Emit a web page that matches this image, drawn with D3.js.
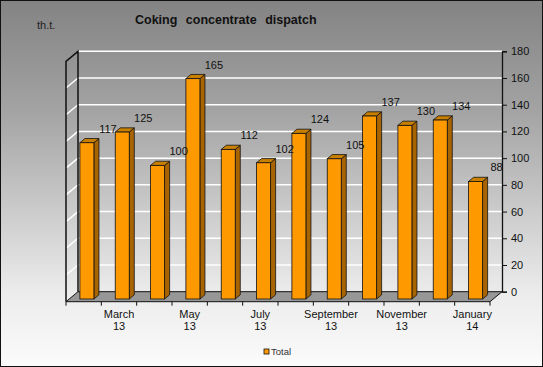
<!DOCTYPE html>
<html>
<head>
<meta charset="utf-8">
<script src="https://cdn.jsdelivr.net/npm/d3@7"></script>
<style>
  body { margin: 0; background: #fff; }
  text { font-family: "Liberation Sans", Arial, sans-serif; }
</style>
</head>
<body>
<svg id="chart" width="543" height="367"></svg>
<script>
// chart data
var months = ["February 13", "March 13", "April 13", "May 13", "June 13", "July 13",
              "August 13", "September 13", "October 13", "November 13", "December 13", "January 14"];
var totals = [117, 125, 100, 165, 112, 102, 124, 105, 137, 130, 134, 88];
var shownLabels = ["March 13", "May 13", "July 13", "September 13", "November 13", "January 14"];
var yTicks = [0, 20, 40, 60, 80, 100, 120, 140, 160, 180];

var W = 543, H = 367;
var svg = d3.select("#chart");

// depth vector of the 3d box (front -> back)
var dx = 12, dy = -10;

var x = d3.scaleBand().domain(months).range([66, 490]).paddingInner(0).paddingOuter(0);
// y on the front plane
var y = d3.scaleLinear().domain([0, 180]).range([301.7, 61.3]);

// background gradient
var defs = svg.append("defs");
var grad = defs.append("linearGradient").attr("id", "bg")
    .attr("x1", 0).attr("y1", 0).attr("x2", 0).attr("y2", 1);
grad.append("stop").attr("offset", "0%").attr("stop-color", "#838383");
grad.append("stop").attr("offset", "30%").attr("stop-color", "#a3a3a3");
grad.append("stop").attr("offset", "80%").attr("stop-color", "#ececec");
grad.append("stop").attr("offset", "100%").attr("stop-color", "#fbfbfb");

svg.append("rect").attr("x", 0.5).attr("y", 0.5).attr("width", W - 1).attr("height", H - 1)
    .attr("fill", "url(#bg)").attr("stroke", "#111");

var x0 = x.range()[0], x1 = x.range()[1];

// left wall gridlines (diagonal)
svg.append("g").selectAll("line").data(yTicks.slice(1, -1)).enter().append("line")
    .attr("x1", x0).attr("y1", function(d) { return y(d); })
    .attr("x2", x0 + dx).attr("y2", function(d) { return y(d) + dy; })
    .attr("stroke", "#fff").attr("stroke-width", 1.5);

// back wall gridlines
svg.append("g").selectAll("line").data(yTicks.slice(1)).enter().append("line")
    .attr("x1", x0 + dx).attr("x2", x1 + dx)
    .attr("y1", function(d) { return y(d) + dy; })
    .attr("y2", function(d) { return y(d) + dy; })
    .attr("stroke", "#fff").attr("stroke-width", 1.5);

// left wall edges
svg.append("path")
    .attr("d", "M" + x0 + "," + y(0) + "V" + y(180) + "L" + (x0 + dx) + "," + (y(180) + dy) +
               "V" + (y(0) + dy))
    .attr("fill", "none").attr("stroke", "#111").attr("stroke-width", 1.5);

// floor
svg.append("path")
    .attr("d", "M" + x0 + "," + y(0) + "H" + x1 + "L" + (x1 + dx) + "," + (y(0) + dy) +
               "H" + (x0 + dx) + "Z")
    .attr("fill", "#979797").attr("stroke", "#111").attr("stroke-width", 1);

// bars
var t0 = 0.27, t1 = 0.69;
var bw = 14;
var bars = svg.append("g").selectAll("g").data(totals).enter().append("g")
    .attr("transform", function(d, i) {
        var cx = x(months[i]) + x.bandwidth() / 2;
        return "translate(" + (cx - bw / 2 + t0 * dx) + "," + (t0 * dy) + ")";
    });
var ddx = (t1 - t0) * dx, ddy = (t1 - t0) * dy;
bars.append("path") // side
    .attr("d", function(d) {
        return "M" + bw + "," + y(0) + "V" + y(d) + "l" + ddx + "," + ddy +
               "V" + (y(0) + ddy) + "Z";
    })
    .attr("fill", "#a86400").attr("stroke", "#111").attr("stroke-width", 0.8);
bars.append("path") // top
    .attr("d", function(d) {
        return "M0," + y(d) + "h" + bw + "l" + ddx + "," + ddy + "h" + (-bw) + "Z";
    })
    .attr("fill", "#c98000").attr("stroke", "#111").attr("stroke-width", 0.8);
bars.append("rect") // front
    .attr("x", 0).attr("width", bw)
    .attr("y", function(d) { return y(d); })
    .attr("height", function(d) { return y(0) - y(d); })
    .attr("fill", "#ff9900").attr("stroke", "#111").attr("stroke-width", 0.8);

// value labels (offset up-right like the original)
svg.append("g").selectAll("text").data(totals).enter().append("text")
    .attr("x", function(d, i) { return x(months[i]) + x.bandwidth() / 2 + t0 * dx + 21; })
    .attr("y", function(d) { return y(d) + t0 * dy - 13; })
    .attr("text-anchor", "middle").attr("dominant-baseline", "middle")
    .attr("font-size", "11px").attr("fill", "#111")
    .text(function(d) { return d; });

// x axis on the front edge
var xAxis = svg.append("g");
xAxis.selectAll("line").data(d3.range(months.length + 1)).enter().append("line")
    .attr("x1", function(i) { return x0 + i * x.step(); })
    .attr("x2", function(i) { return x0 + i * x.step(); })
    .attr("y1", y(0)).attr("y2", y(0) + 4)
    .attr("stroke", "#111");
var xl = xAxis.selectAll("text").data(shownLabels).enter().append("text")
    .attr("text-anchor", "middle").attr("font-size", "11px").attr("fill", "#111")
    .attr("transform", function(d) {
        return "translate(" + (x(d) + x.bandwidth() / 2) + ",0)";
    });
xl.append("tspan").attr("x", 0).attr("y", 318).text(function(d) { return d.split(" ")[0]; });
xl.append("tspan").attr("x", 0).attr("y", 330).text(function(d) { return d.split(" ")[1]; });

// right value axis on the back plane
var yBack = d3.scaleLinear().domain(y.domain()).range([y(0) + dy, y(180) + dy]);
var yAxis = svg.append("g").attr("transform", "translate(" + (x1 + dx) + ",0)")
    .call(d3.axisRight(yBack).tickValues(yTicks).tickSize(5).tickPadding(4));
yAxis.select(".domain").attr("stroke", "#111").attr("stroke-width", 1.3);
yAxis.selectAll(".tick line").attr("stroke", "#111");
yAxis.selectAll(".tick text").attr("font-size", "11px").attr("fill", "#111")
    .attr("font-family", "Liberation Sans, Arial, sans-serif");

// titles
svg.append("text").attr("x", 135).attr("y", 24)
    .attr("font-size", "12.5px").attr("font-weight", "bold").attr("fill", "#111")
    .attr("word-spacing", "5px")
    .text("Coking concentrate dispatch");
svg.append("text").attr("x", 37).attr("y", 29)
    .attr("font-size", "11px").attr("fill", "#222")
    .text("th.t.");

// legend
var legend = svg.append("g").attr("transform", "translate(264,349)");
legend.append("rect").attr("width", 5).attr("height", 5)
    .attr("fill", "#ff9900").attr("stroke", "#111").attr("stroke-width", 0.8);
legend.append("text").attr("x", 7).attr("y", 3).attr("dominant-baseline", "middle")
    .attr("font-size", "9.5px").attr("fill", "#333").text("Total");
</script>
</body>
</html>
